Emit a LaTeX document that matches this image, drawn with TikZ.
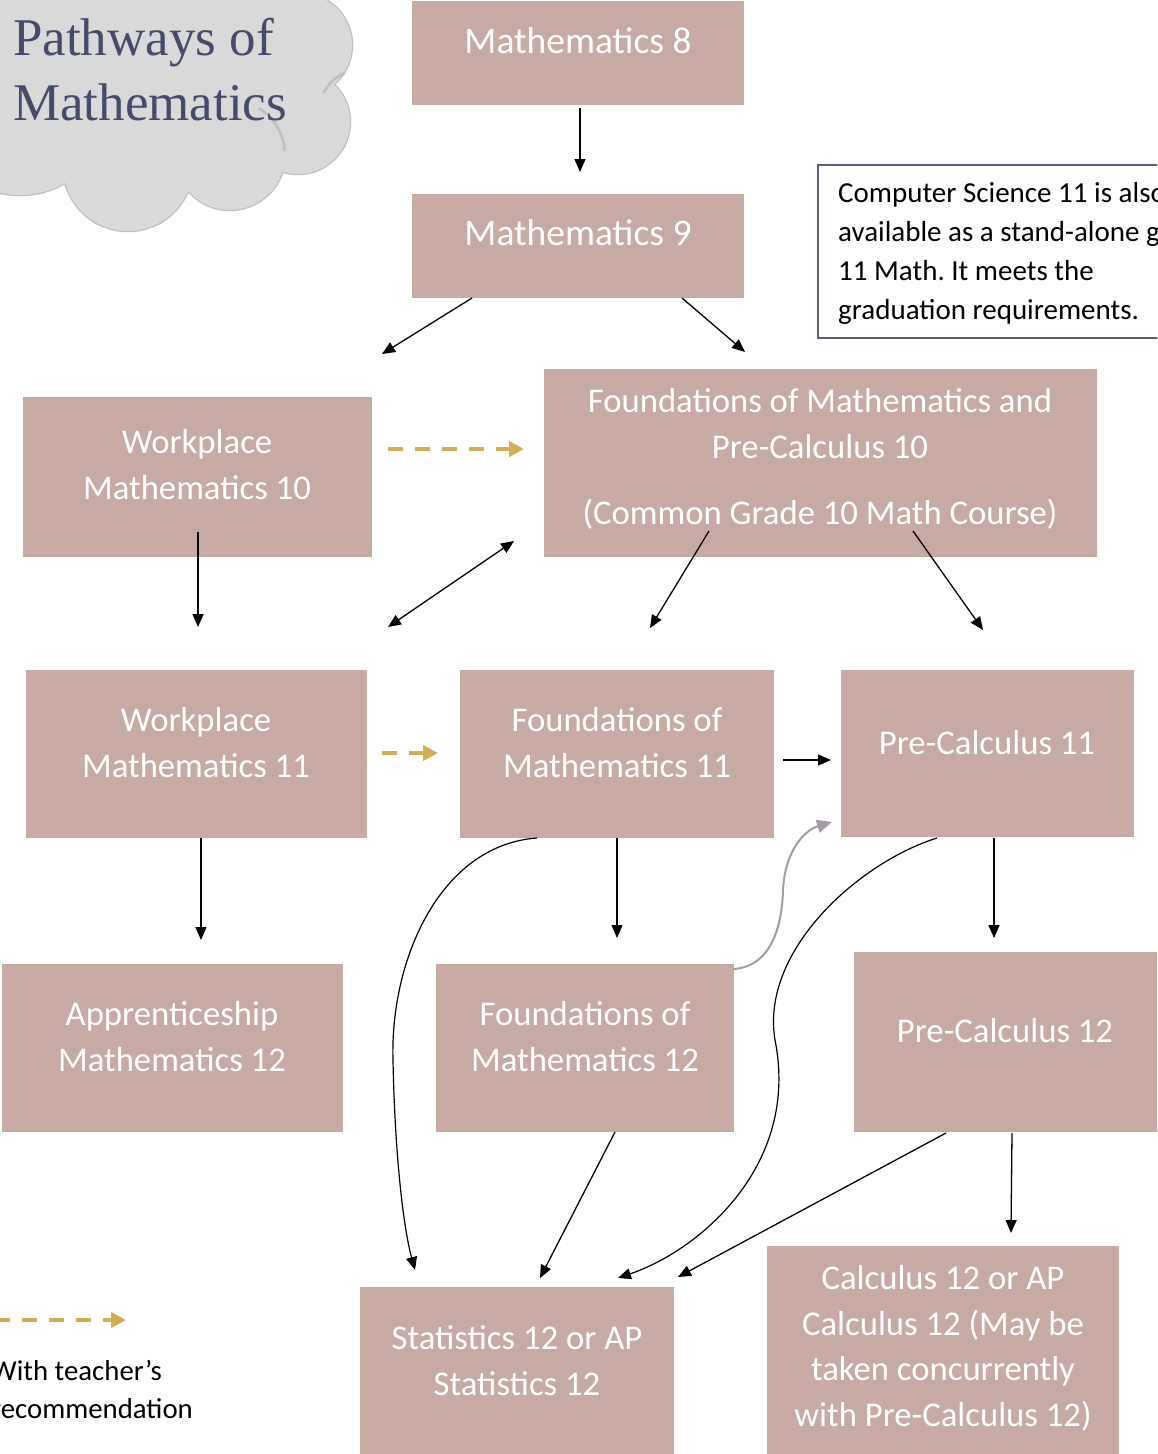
\documentclass[tikz,border=0pt]{standalone}
\usepackage{fontspec}
\setmainfont{Carlito}
\newfontfamily\titlefont{Liberation Serif}
\usetikzlibrary{arrows.meta}
\frenchspacing
\definecolor{boxc}{HTML}{C8AAA5}
\definecolor{cloudf}{HTML}{D9D9D9}
\definecolor{cloudl}{HTML}{BFBFBF}
\definecolor{titlec}{HTML}{454B6B}
\definecolor{goldc}{HTML}{D4AE54}
\definecolor{curvec}{HTML}{A59BA8}
\definecolor{notec}{HTML}{5A5E80}
\begin{document}
\begin{tikzpicture}[x=1pt,y=-1pt,
  box/.style={fill=boxc, draw=none, inner sep=0pt, outer sep=0pt},
  btxt/.style={text=white, inner sep=0pt, align=center, anchor=base,
    font=\fontsize{34.7}{45.5}\selectfont},
  bigtxt/.style={btxt, font=\fontsize{37.5}{45.5}\selectfont},
  arr/.style={line width=1.3pt, -{Triangle[length=13pt,width=11pt]}},
  darr/.style={line width=1.3pt, {Triangle[length=13pt,width=11pt]}-{Triangle[length=13pt,width=11pt]}},
  goldarr/.style={goldc, line width=4pt, dash pattern=on 15pt off 12pt, -{Triangle[length=15pt,width=15pt]}},
  crv/.style={line width=1.2pt, -{Triangle[length=13pt,width=11pt]}},
  graycrv/.style={curvec, line width=2pt, -{Triangle[length=15pt,width=13pt]}},
  cloudline/.style={draw=cloudl, line width=2.5pt}]
\clip (0,0) rectangle (1157,1454);
\fill[white] (0,0) rectangle (1157,1454);

% cloud
\foreach \cx/\cy/\r in {300/45/52, 298/122/52, 230/155/55, 128/166/65, 20/105/90}
  \draw[cloudline] (\cx,\cy) circle[radius=\r];
\fill[cloudf] (0,0) rectangle (290,150);
\foreach \cx/\cy/\r in {300/45/52, 298/122/52, 230/155/55, 128/166/65, 20/105/90}
  \fill[cloudf] (\cx,\cy) circle[radius=\r];
\begin{scope}
  \clip (258,108) rectangle (290,150);
  \draw[cloudline] (230,155) circle[radius=55];
\end{scope}
\begin{scope}
  \clip (318,70) rectangle (345,92);
  \draw[cloudline] (360,110) circle[radius=40];
\end{scope}
\node[anchor=base west, inner sep=0pt, text=titlec, align=left,
  font=\titlefont\fontsize{53}{65}\selectfont] (title) at (13,120) {Pathways of\\Mathematics};

% boxes
\node[box, minimum width=332pt, minimum height=104pt] (m8) at (578,53) {};
\node[box, minimum width=332pt, minimum height=104pt] (m9) at (578,246) {};
\node[box, minimum width=553pt, minimum height=188pt] (fpc10) at (820.5,463) {};
\node[box, minimum width=349pt, minimum height=160pt] (w10) at (197.5,477) {};
\node[box, minimum width=341pt, minimum height=168pt] (w11) at (196.5,754) {};
\node[box, minimum width=314pt, minimum height=168pt] (f11) at (617,754) {};
\node[box, minimum width=293pt, minimum height=167pt] (pc11) at (987.5,753.5) {};
\node[box, minimum width=341pt, minimum height=168pt] (a12) at (172.5,1048) {};
\node[box, minimum width=298pt, minimum height=168pt] (f12) at (585,1048) {};
\node[box, minimum width=306pt, minimum height=180pt] (pc12) at (1007,1042) {};
\node[box, minimum width=314pt, minimum height=173pt] (s12) at (517,1373.5) {};
\node[box, minimum width=352pt, minimum height=214pt] (c12) at (943,1353) {};
\node[draw=notec, line width=1.2pt, inner sep=0pt, minimum width=352pt, minimum height=173pt] (note) at (994,251.5) {};

% box texts (anchor = baseline of last line)
\node[bigtxt] (m8t) at (578,53) {Mathematics 8};
\node[bigtxt] (m9t) at (578,245) {Mathematics 9};
\node[btxt] (fpc10t) at (820,524) {Foundations of Mathematics and\\Pre-Calculus 10\\[20.5pt](Common Grade 10 Math Course)};
\node[btxt] (w10t) at (197,499) {Workplace\\Mathematics 10};
\node[btxt] (w11t) at (196,777) {Workplace\\Mathematics 11};
\node[btxt] (f11t) at (617,777) {Foundations of\\Mathematics 11};
\node[btxt] (pc11t) at (987,754) {Pre-Calculus 11};
\node[btxt] (a12t) at (172,1071) {Apprenticeship\\Mathematics 12};
\node[btxt] (f12t) at (585,1071) {Foundations of\\Mathematics 12};
\node[btxt] (pc12t) at (1005,1042) {Pre-Calculus 12};
\node[btxt] (s12t) at (517,1395) {Statistics 12 or AP\\Statistics 12};
\node[btxt] (c12t) at (943,1426) {Calculus 12 or AP\\Calculus 12 (May be\\taken concurrently\\with Pre-Calculus 12)};
\node[anchor=base west, inner sep=0pt, align=left, font=\fontsize{29}{39}\selectfont] (notet) at (838,319)
  {Computer Science 11 is also\\available as a stand-alone grade\\11 Math. It meets the\\graduation requirements.};
\node[anchor=base west, inner sep=0pt, align=left, font=\fontsize{28.8}{38}\selectfont] (legt) at (-9,1418)
  {With teacher’s\\recommendation};

% arrow end coordinates
\coordinate (a1s) at (580,108);  \coordinate (a1e) at (580,172);
\coordinate (a2s) at (472,298);  \coordinate (a2e) at (382,354);
\coordinate (a3s) at (682,298);  \coordinate (a3e) at (745,352);
\coordinate (g1s) at (388,449);  \coordinate (g1e) at (524,449);
\coordinate (a4s) at (198,532);  \coordinate (a4e) at (198,627);
\coordinate (d1s) at (388,627);  \coordinate (d1e) at (514,541);
\coordinate (a5s) at (709,531);  \coordinate (a5e) at (650,628);
\coordinate (a6s) at (913,531);  \coordinate (a6e) at (983,630);
\coordinate (g2s) at (382,753);  \coordinate (g2e) at (438,753);
\coordinate (a7s) at (783,760);  \coordinate (a7e) at (831,760);
\coordinate (a8s) at (201,838);  \coordinate (a8e) at (201,940);
\coordinate (a9s) at (617,838);  \coordinate (a9e) at (617,938);
\coordinate (a10s) at (994,838); \coordinate (a10e) at (994,938);
\coordinate (a11s) at (615,1132); \coordinate (a11e) at (540,1278);
\coordinate (a12s) at (946,1133); \coordinate (a12e) at (678,1277);
\coordinate (a13s) at (1012,1133); \coordinate (a13e) at (1011,1233);
\coordinate (c1s) at (537,838);  \coordinate (c1e) at (415,1270);
\coordinate (c2s) at (937,838);  \coordinate (c2e) at (618,1278);
\coordinate (c3s) at (734,969);  \coordinate (c3e) at (832,822);
\coordinate (lgs) at (-5,1320);  \coordinate (lge) at (126,1320);

\draw[arr] (a1s) -- (a1e);
\draw[arr] (a2s) -- (a2e);
\draw[arr] (a3s) -- (a3e);
\draw[goldarr] (g1s) -- (g1e);
\draw[arr] (a4s) -- (a4e);
\draw[darr] (d1s) -- (d1e);
\draw[arr] (a5s) -- (a5e);
\draw[arr] (a6s) -- (a6e);
\draw[goldarr] (g2s) -- (g2e);
\draw[arr] (a7s) -- (a7e);
\draw[arr] (a8s) -- (a8e);
\draw[arr] (a9s) -- (a9e);
\draw[arr] (a10s) -- (a10e);
\draw[arr] (a11s) -- (a11e);
\draw[arr] (a12s) -- (a12e);
\draw[arr] (a13s) -- (a13e);
\draw[crv] (c1s) .. controls (440,845) and (390,960) .. (393,1060) .. controls (395,1160) and (404,1230) .. (c1e);
\draw[crv] (c2s) .. controls (860,862) and (760,950) .. (775,1040) .. controls (800,1165) and (700,1250) .. (c2e);
\draw[graycrv] (c3s) .. controls (772,966) and (782,925) .. (783,890) .. controls (785,850) and (805,830) .. (c3e);
\draw[goldarr] (lgs) -- (lge);
\end{tikzpicture}
\end{document}
